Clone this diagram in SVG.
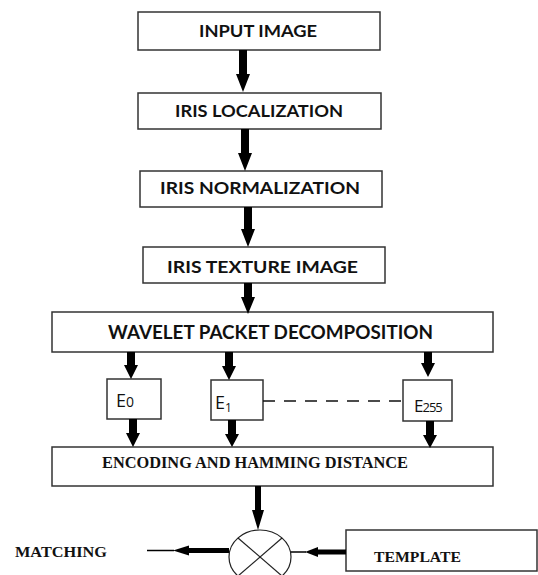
<svg xmlns="http://www.w3.org/2000/svg" width="538" height="575" viewBox="0 0 538 575">
<style>
.box{fill:#fff;stroke:#333;stroke-width:1.5}
.sans{font-family:Lato,"Open Sans","Liberation Sans",sans-serif;font-weight:bold;fill:#111}
.serif{font-family:"Liberation Serif","DejaVu Serif",serif;font-weight:bold;fill:#111}
.lbl{font-family:"Open Sans","Liberation Sans",sans-serif;fill:#111}
.arr{fill:#000}
.thin{stroke:#000;stroke-width:1.5;fill:none}
</style>
<rect width="538" height="575" fill="#fff"/>
<g id="input-image"><rect class="box" x="138" y="12" width="242" height="38"/><text class="sans" x="199" y="37" font-size="17" textLength="118" lengthAdjust="spacingAndGlyphs">INPUT IMAGE</text></g>
<g id="iris-localization"><rect class="box" x="138" y="93" width="243" height="36"/><text class="sans" x="175" y="117" font-size="17" textLength="168" lengthAdjust="spacingAndGlyphs">IRIS LOCALIZATION</text></g>
<g id="iris-normalization"><rect class="box" x="140" y="171" width="242" height="36"/><text class="sans" x="160" y="194" font-size="17" textLength="200" lengthAdjust="spacingAndGlyphs">IRIS NORMALIZATION</text></g>
<g id="iris-texture-image"><rect class="box" x="143" y="247" width="242" height="36"/><text class="sans" x="167" y="273" font-size="17" textLength="191" lengthAdjust="spacingAndGlyphs">IRIS TEXTURE IMAGE</text></g>
<g id="wavelet-packet-decomposition"><rect class="box" x="52" y="312" width="441" height="40"/><text class="sans" x="108" y="339" font-size="18" textLength="325" lengthAdjust="spacingAndGlyphs">WAVELET PACKET DECOMPOSITION</text></g>
<g id="e0"><rect class="box" x="107" y="379" width="54" height="40"/><text class="lbl" x="116" y="407" font-size="18">E<tspan font-size="14">0</tspan></text></g>
<g id="e1"><rect class="box" x="211" y="380" width="52" height="40"/><text class="lbl" x="215" y="409" font-size="18">E<tspan font-size="12" dy="3">1</tspan></text></g>
<g id="e255"><rect class="box" x="403" y="380" width="49" height="41"/><text class="lbl" x="414" y="412" font-size="17" letter-spacing="-1">E<tspan font-size="13">255</tspan></text></g>
<g id="encoding-hamming"><rect class="box" x="52" y="447" width="441" height="39"/><text class="serif" x="102" y="468" font-size="17" textLength="306" lengthAdjust="spacingAndGlyphs">ENCODING AND HAMMING DISTANCE</text></g>
<g id="matcher"><ellipse cx="260" cy="557" rx="31" ry="27" fill="#fff" stroke="#222" stroke-width="1.2"/><line x1="238" y1="538" x2="282" y2="576" stroke="#222" stroke-width="1.2"/><line x1="282" y1="538" x2="238" y2="576" stroke="#222" stroke-width="1.2"/></g>
<g id="matching"><text class="serif" x="15" y="557" font-size="15" textLength="92" lengthAdjust="spacingAndGlyphs">MATCHING</text></g>
<g id="template"><rect class="box" x="346" y="530" width="191" height="41"/><text class="serif" x="374" y="562" font-size="15" textLength="87" lengthAdjust="spacingAndGlyphs">TEMPLATE</text></g>
<g id="connectors">
<polygon class="arr" points="239,50 247,50 247,74 250,74 243,92 236,74 239,74"/>
<polygon class="arr" points="241,129 249,129 249,153 252,153 245,171 238,153 241,153"/>
<polygon class="arr" points="244,207 252,207 252,229 255,229 248,247 241,229 244,229"/>
<polygon class="arr" points="244,283 252,283 252,297 255,297 248,314 241,297 244,297"/>
<polygon class="arr" points="127,352 135,352 135,365 138,365 131,379 124,365 127,365"/>
<polygon class="arr" points="225,352 233,352 233,366 236,366 229,380 222,366 225,366"/>
<polygon class="arr" points="424,352 432,352 432,363 435,363 428,377 421,363 424,363"/>
<polygon class="arr" points="129,419 137,419 137,433 140,433 133,447 126,433 129,433"/>
<polygon class="arr" points="228,420 236,420 236,434 239,434 232,447 225,434 228,434"/>
<polygon class="arr" points="426,421 434,421 434,435 437,435 430,448 423,435 426,435"/>
<polygon class="arr" points="255,486 261,486 261,510 264,510 258,530 252,510 255,510"/>
<line x1="263" y1="401" x2="403" y2="401" stroke="#111" stroke-width="1.5" stroke-dasharray="12,9"/>
<rect class="arr" x="189" y="548" width="40" height="5"/>
<polygon class="arr" points="173,550.5 189,545.5 189,555.5"/>
<line class="thin" x1="147" y1="550.5" x2="174" y2="550.5"/>
<rect class="arr" x="318" y="549.5" width="28" height="5"/>
<polygon class="arr" points="305,552 318,547 318,557"/>
<line class="thin" x1="291" y1="552" x2="306" y2="552"/>
</g>
</svg>
